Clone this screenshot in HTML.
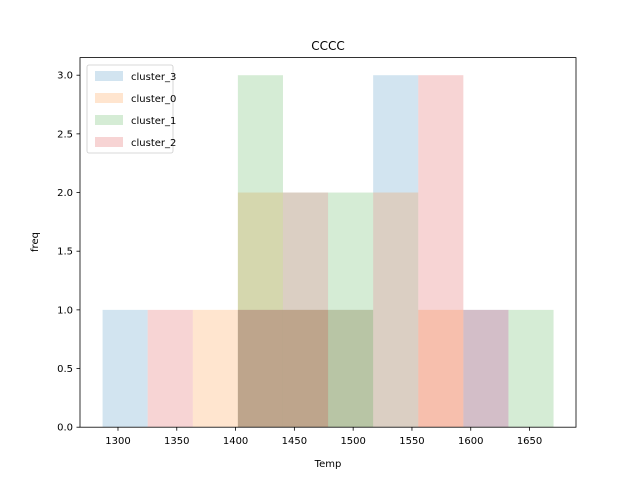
<!DOCTYPE html>
<html><head><meta charset="utf-8"><style>body{margin:0;background:#fff}svg{font-family:"DejaVu Sans","Liberation Sans",sans-serif}</style></head>
<body>
<svg id="c" width="640" height="480" xmlns="http://www.w3.org/2000/svg"></svg>
<script>
const seriesNames=["cluster_3","cluster_0","cluster_1","cluster_2"];
const colors=["#1f77b4","#ff7f0e","#2ca02c","#d62728"];
const cluster3=[1,0,0,1,2,1,3,0,1,0];
const cluster0=[0,0,1,2,2,1,2,1,0,0];
const cluster1=[0,0,0,3,1,2,0,0,0,1];
const cluster2=[0,1,0,1,1,0,0,3,1,0];
const binStart=1286.9, binWidth=38.35;
const xTicks=[1300,1350,1400,1450,1500,1550,1600,1650];
const yTicks=["0.0","0.5","1.0","1.5","2.0","2.5","3.0"];
const L=80,R=576,T=57.6,B=427.2,xmin=1267.7,xmax=1689.5,ymax=3.15;
const X=v=>L+(v-xmin)*(R-L)/(xmax-xmin);
const Y=v=>B-v*(B-T)/ymax;
const svg=document.getElementById('c');const NS="http://www.w3.org/2000/svg";
function mk(t,a,p){const e=document.createElementNS(NS,t);for(const k in a)e.setAttribute(k,a[k]);(p||svg).appendChild(e);return e;}
const all=[cluster3,cluster0,cluster1,cluster2];
all.forEach((s,si)=>{s.forEach((v,i)=>{if(!v)return;
const r=mk('rect',{x:X(binStart+i*binWidth),y:Y(v),width:X(binStart+(i+1)*binWidth)-X(binStart+i*binWidth),height:B-Y(v),fill:colors[si],'fill-opacity':0.2});

});});
const ax=mk('rect',{x:L,y:T,width:R-L,height:B-T,fill:'none',stroke:'#000','stroke-width':0.8});

xTicks.forEach(v=>{const x=X(v);mk('line',{x1:x,x2:x,y1:B,y2:B+3.5,stroke:'#000','stroke-width':0.8});
const t=mk('text',{x:x,y:B+17,'font-size':10,'text-anchor':'middle'});t.textContent=v;
});
yTicks.forEach(s=>{const y=Y(parseFloat(s));mk('line',{x1:L-3.5,x2:L,y1:y,y2:y,stroke:'#000','stroke-width':0.8});
const t=mk('text',{x:L-7,y:y+3.5,'font-size':10,'text-anchor':'end'});t.textContent=s;
});
let t=mk('text',{x:328,y:50,'font-size':12,'text-anchor':'middle'});t.textContent='CCCC';

t=mk('text',{x:328,y:467,'font-size':10,'text-anchor':'middle'});t.textContent='Temp';

t=mk('text',{x:38,y:242,'font-size':10,'text-anchor':'middle',transform:'rotate(-90 38 242)'});t.textContent='freq';

const lg=mk('g',{});
mk('rect',{x:87,y:65,width:86,height:88,rx:2,fill:'#fff','fill-opacity':0.8,stroke:'#ccc','stroke-width':0.8},lg);
seriesNames.forEach((n,i)=>{const y=71+i*22;
mk('rect',{x:95,y:y,width:28,height:10,fill:colors[i],'fill-opacity':0.2},lg);
const e=mk('text',{x:131,y:y+9,'font-size':10},lg);e.textContent=n;
});
</script>
</body></html>
